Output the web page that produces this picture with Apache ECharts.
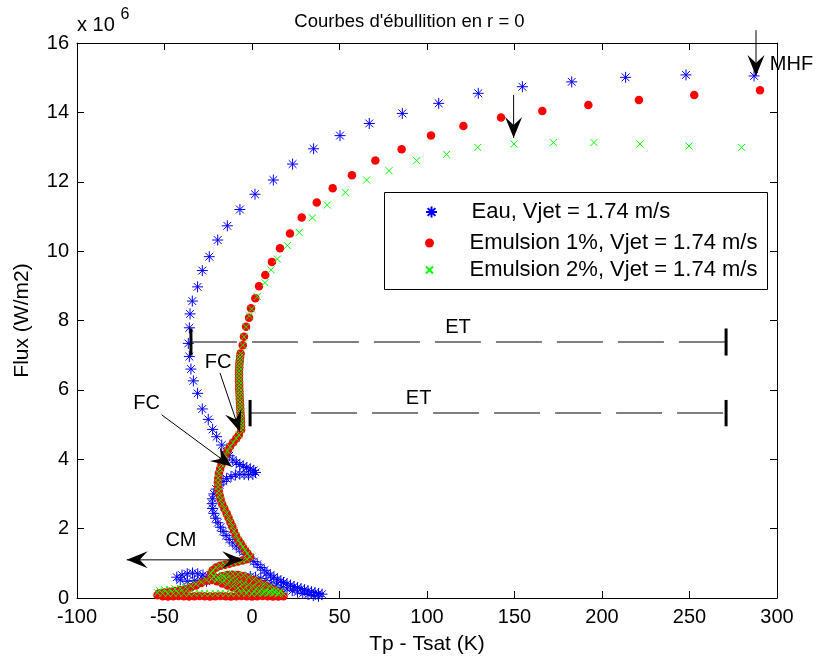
<!DOCTYPE html>
<html><head><meta charset="utf-8">
<script src="https://cdn.jsdelivr.net/npm/echarts@6/dist/echarts.min.js"></script>
<style>html,body{margin:0;padding:0;background:#fff}#chart{width:819px;height:663px}</style>
</head><body><div id="chart"></div>
<script>
const FONT = "'Liberation Sans', Arial, Helvetica, sans-serif";

// ---- axes ----
const xTickValues = [-100, -50, 0, 50, 100, 150, 200, 250, 300];
const yTickValues = [0, 2, 4, 6, 8, 10, 12, 14, 16];   // ×10^6 W/m2

// ---- series names ----
const seriesNames = ['Eau, Vjet = 1.74 m/s', 'Emulsion 1%, Vjet = 1.74 m/s', 'Emulsion 2%, Vjet = 1.74 m/s'];

// ---- data: [Tp - Tsat (K), Flux (×10^6 W/m2)] ----
const eauCurve = [
[286.9,15.05],[248.0,15.08],[213.5,15.01],[182.7,14.88],[154.5,14.74],[129.3,14.55],[106.7,14.26],[85.9,13.97],[67.0,13.68],[50.3,13.33],[35.2,12.95],[23.2,12.51],[12.2,12.05],[1.7,11.64],[-6.9,11.20],[-14.1,10.73],[-19.6,10.32],[-24.4,9.84],[-28.4,9.44],[-31.1,8.97],[-34.1,8.56],[-35.4,8.19],[-35.8,7.79],[-36.4,7.34],[-35.8,6.96],[-34.9,6.60],[-33.5,6.26],[-31.1,5.90],[-28.4,5.45],[-25.0,5.15],[-22.5,4.86],[-20.2,4.65],[-17.3,4.41],[-14.5,4.22],
[-13.0,4.10],[-11.0,3.98],[-9.0,3.90],[-7.0,3.85],[-5.0,3.80],[-3.0,3.76],[-1.0,3.72],[1.0,3.68],[2.0,3.62],[0.5,3.56],[-2.0,3.55],[-4.5,3.56],[-7.0,3.57],[-9.5,3.55],[-12.0,3.50],[-14.5,3.44],[-16.5,3.36],[-18.5,3.26],[-20.5,3.14],[-21.8,3.00],[-22.6,2.86],[-22.8,2.72],[-22.5,2.58],[-21.8,2.44],[-20.8,2.30],[-19.5,2.17],[-18.0,2.04],[-16.5,1.92],[-14.8,1.80],[-13.0,1.69],[-11.0,1.59],[-9.0,1.50],[-7.0,1.41],[-5.0,1.33],[-3.0,1.25],[-1.0,1.15],[1.0,1.05],[3.0,0.97],[5.0,0.88],[7.0,0.80],[8.5,0.72],[10.5,0.66],[12.5,0.60],[14.5,0.54],[16.5,0.49],[18.0,0.45],[20.0,0.41],[22.0,0.37],[24.0,0.33],[26.0,0.30],[28.0,0.27],[30.0,0.24],[32.0,0.21],[34.0,0.18],[36.0,0.16],[38.0,0.13],[40.0,0.11],
[38.0,0.05],[35.0,0.07],[32.0,0.10],[29.0,0.13],[26.0,0.17],[23.0,0.21],[20.0,0.26],[17.0,0.31],[14.0,0.37],[11.0,0.43],[8.0,0.50],[5.0,0.56],[2.0,0.60],[-1.0,0.62],[-4.0,0.60],[-7.0,0.55],[-10.0,0.50],[-13.0,0.48],[-16.0,0.50],[-19.0,0.55],[-22.0,0.58],[-25.0,0.62],[-28.0,0.66],[-31.0,0.70],[-34.0,0.72],[-37.0,0.70],[-40.0,0.66],[-43.0,0.60],[-41.0,0.52],[-37.0,0.48],[-33.0,0.50],[-29.0,0.52],[-26.0,0.48]
];

const emulsion1Curve = [
[290.3,14.64],[252.7,14.50],[221.1,14.36],[192.2,14.21],[165.9,14.04],[142.3,13.85],[120.8,13.61],[102.3,13.33],[85.5,12.94],[70.5,12.61],[57.1,12.19],[46.1,11.81],[37.0,11.40],[28.4,10.97],[21.7,10.51],[16.0,10.08],[11.4,9.69],[7.6,9.31],[4.0,8.99],[1.9,8.64],[-0.6,8.35],[-1.7,8.08],[-3.4,7.82],[-4.6,7.53],[-5.3,7.29],[-6.5,7.05],
[-6.8,6.95],[-7.0,6.85],[-7.2,6.75],[-7.3,6.65],[-7.4,6.55],[-7.4,6.45],[-7.4,6.35],[-7.4,6.25],[-7.3,6.15],[-7.3,6.05],[-7.2,5.95],[-7.1,5.85],[-7.0,5.75],[-6.9,5.65],[-6.8,5.55],[-6.7,5.45],[-6.6,5.35],[-6.5,5.25],[-6.4,5.15],[-6.3,5.05],[-6.2,4.95],[-6.2,4.85],
[-7.5,4.70],[-9.0,4.60],[-10.8,4.48],[-12.6,4.36],[-14.0,4.24],[-15.3,4.11],[-16.4,3.98],[-17.4,3.85],[-18.2,3.72],[-18.9,3.59],[-19.3,3.46],[-19.5,3.33],[-19.4,3.21],[-19.0,3.08],[-18.5,2.96],[-17.9,2.83],[-17.0,2.70],[-15.8,2.57],[-14.5,2.44],[-13.4,2.31],[-12.3,2.18],[-11.3,2.06],[-10.3,1.93],[-9.2,1.80],[-7.8,1.67],[-6.5,1.57],[-5.2,1.47],[-4.0,1.38],[-2.6,1.28],[-1.1,1.19],[-3.0,1.12],[-5.5,1.08],[-8.0,1.05],[-10.5,1.02],[-13.0,0.99],[-15.5,0.96],[-18.0,0.93],[-20.5,0.88],[-22.5,0.80],[-23.5,0.70],
[-22.0,0.60],[-19.5,0.57],[-17.0,0.55],[-14.5,0.55],[-12.0,0.52],[-9.5,0.48],[-7.0,0.44],[-4.5,0.40],[-2.0,0.36],[0.5,0.32],[3.0,0.28],[5.5,0.24],[8.0,0.20],[10.5,0.16],[13.0,0.12],[15.5,0.08],[18.0,0.05],[15.0,0.04],[12.0,0.04],[9.0,0.05],[6.0,0.06],[3.0,0.05],[0.0,0.04],[-3.0,0.05],[-6.0,0.06],[-9.0,0.05],[-12.0,0.04],[-15.0,0.05],[-18.0,0.06],[-21.0,0.05],[-24.0,0.04],[-27.0,0.05],[-30.0,0.06],[-33.0,0.05],[-36.0,0.04],[-39.0,0.05],[-42.0,0.06],[-45.0,0.05],[-48.0,0.04],[-51.0,0.05],[-54.0,0.08],[-53.0,0.14],[-50.0,0.16],[-47.0,0.18],[-44.0,0.20],[-41.0,0.22],[-38.0,0.25],[-35.0,0.30],[-32.0,0.36],[-29.0,0.43],[-26.0,0.50],[-23.0,0.52],[-20.0,0.48],[-17.0,0.42],[-14.0,0.36],[-11.0,0.30],[-8.0,0.25],[-5.0,0.20],[-2.0,0.16],[1.0,0.13],[4.0,0.11],[7.0,0.10],[10.0,0.10],[13.0,0.12],[16.0,0.15],[13.0,0.22],[10.0,0.30],[7.0,0.38],[4.0,0.45],[1.0,0.52],[-2.0,0.58],[-5.0,0.63],[-8.0,0.66],[-11.0,0.67],[-14.0,0.66],[-17.0,0.63]
];

const emulsion2Curve = [
[279.8,12.99],[249.7,13.03],[221.7,13.09],[195.4,13.13],[172.2,13.13],[149.7,13.09],[129.0,12.99],[111.2,12.79],[94.1,12.61],[78.3,12.32],[65.5,12.05],[53.3,11.69],[43.0,11.33],[34.5,10.96],[27.0,10.54],[20.2,10.16],[14.5,9.77],[10.9,9.46],[7.4,9.09],[3.0,8.69],[-0.2,8.33],[-1.5,8.13],[-3.4,7.82],[-4.6,7.53],[-5.3,7.29],[-6.5,7.05],
[-6.8,6.95],[-7.0,6.85],[-7.2,6.75],[-7.3,6.65],[-7.4,6.55],[-7.4,6.45],[-7.4,6.35],[-7.4,6.25],[-7.3,6.15],[-7.3,6.05],[-7.2,5.95],[-7.1,5.85],[-7.0,5.75],[-6.9,5.65],[-6.8,5.55],[-6.7,5.45],[-6.6,5.35],[-6.5,5.25],[-6.4,5.15],[-6.3,5.05],[-6.2,4.95],[-6.2,4.85],
[-7.5,4.70],[-9.0,4.60],[-10.8,4.48],[-12.6,4.36],[-14.0,4.24],[-15.3,4.11],[-16.4,3.98],[-17.4,3.85],[-18.2,3.72],[-18.9,3.59],[-19.3,3.46],[-19.5,3.33],[-19.4,3.21],[-19.0,3.08],[-18.5,2.96],[-17.9,2.83],[-17.0,2.70],[-15.8,2.57],[-14.5,2.44],[-13.4,2.31],[-12.3,2.18],[-11.3,2.06],[-10.3,1.93],[-9.2,1.80],[-7.8,1.67],[-6.5,1.57],[-5.2,1.47],[-4.0,1.38],[-2.6,1.28],[-1.1,1.19],[-3.0,1.12],[-5.5,1.08],[-8.0,1.05],[-10.5,1.02],[-13.0,0.99],[-15.5,0.96],[-18.0,0.93],[-20.5,0.88],[-22.5,0.80],[-23.5,0.72],
[-22.0,0.62],[-19.5,0.60],[-17.0,0.58],[-14.5,0.56],[-12.0,0.53],[-9.5,0.50],[-7.0,0.46],[-4.5,0.42],[-2.0,0.38],[0.5,0.34],[3.0,0.30],[5.5,0.26],[8.0,0.22],[10.5,0.19],[13.0,0.16],[15.5,0.14],[18.0,0.13],[15.0,0.12],[12.0,0.13],[9.0,0.14],[6.0,0.14],[3.0,0.13],[0.0,0.12],[-3.0,0.13],[-6.0,0.14],[-9.0,0.13],[-12.0,0.12],[-15.0,0.13],[-18.0,0.14],[-21.0,0.13],[-24.0,0.12],[-27.0,0.13],[-30.0,0.14],[-33.0,0.13],[-36.0,0.12],[-39.0,0.13],[-42.0,0.14],[-45.0,0.13],[-48.0,0.12],[-51.0,0.13],[-54.0,0.15],[-53.0,0.22],[-50.0,0.24],[-47.0,0.24],[-44.0,0.26],[-41.0,0.28],[-38.0,0.31],[-35.0,0.35],[-32.0,0.40],[-29.0,0.46],[-26.0,0.52],[-23.0,0.55],[-20.0,0.52],[-17.0,0.46],[-14.0,0.40],[-11.0,0.34],[-8.0,0.29],[-5.0,0.25],[-2.0,0.22],[1.0,0.19],[4.0,0.17],[7.0,0.16],[10.0,0.16],[13.0,0.18],[16.0,0.20],[13.0,0.27],[10.0,0.34],[7.0,0.41],[4.0,0.48],[1.0,0.54],[-2.0,0.60],[-5.0,0.65],[-8.0,0.68],[-11.0,0.70],[-14.0,0.69],[-17.0,0.66]
];

// ---- annotations (data coordinates) ----
// arrows: [x1, y1, x2(tip), y2(tip), heads]
const arrowSegments = [
  [288.0, 16.37, 288.0, 15.05, 1],
  [149.5, 14.50, 149.5, 13.26, 1],
  [-18.3, 6.49, -6.9, 4.79, 1],
  [-51.6, 5.28, -11.6, 3.79, 1],
  [-71.6, 1.10, -5.0, 1.10, 2]
];
// ET spans: [xStart, xEnd, y, capHalfHeight]
const etSegments = [
  [-34.9, 270.9, 7.38, 0.39],
  [-1.1, 270.9, 5.33, 0.38]
];
const annotationTexts = ['MHF', 'ET', 'ET', 'FC', 'FC', 'CM'];
const annotationPositions = [[308.3, 15.37], [117.7, 7.81], [95.2, 5.74], [-19.4, 6.80], [-60.2, 5.62], [-40.6, 1.67]];

const STAR = 'path://M0,-6L0,6M-6,0L6,0M-4.24,-4.24L4.24,4.24M-4.24,4.24L4.24,-4.24';
const CROSS = 'path://M-1,-1L1,1M-1,1L1,-1';

function arrowHead(tip, from) {
  const dx = tip[0] - from[0], dy = tip[1] - from[1];
  const len = Math.hypot(dx, dy) || 1;
  const ux = dx / len, uy = dy / len, nx = -uy, ny = ux;
  const L = 21, H = 8.5, N = 13;
  return {
    type: 'polygon',
    shape: { points: [
      [tip[0], tip[1]],
      [tip[0] - L * ux + H * nx, tip[1] - L * uy + H * ny],
      [tip[0] - N * ux, tip[1] - N * uy],
      [tip[0] - L * ux - H * nx, tip[1] - L * uy - H * ny]
    ] },
    style: { fill: '#000' }
  };
}
function renderArrow(params, api) {
  const a = api.coord([api.value(0), api.value(1)]);
  const b = api.coord([api.value(2), api.value(3)]);
  const children = [{ type: 'line', shape: { x1: a[0], y1: a[1], x2: b[0], y2: b[1] }, style: { stroke: '#000', lineWidth: 1 } }];
  children.push(arrowHead(b, a));
  if (api.value(4) === 2) children.push(arrowHead(a, b));
  return { type: 'group', children };
}
function renderEt(params, api) {
  const y = api.value(2), h = api.value(3);
  const a = api.coord([api.value(0), y]);
  const b = api.coord([api.value(1), y]);
  const top = api.coord([api.value(0), y + h])[1];
  const bot = api.coord([api.value(0), y - h])[1];
  return { type: 'group', children: [
    { type: 'line', shape: { x1: a[0], y1: a[1], x2: b[0], y2: b[1] }, style: { stroke: '#555', lineWidth: 1.5, lineDash: [46, 15] } },
    { type: 'line', shape: { x1: a[0], y1: top, x2: a[0], y2: bot }, style: { stroke: '#000', lineWidth: 3 } },
    { type: 'line', shape: { x1: b[0], y1: top, x2: b[0], y2: bot }, style: { stroke: '#000', lineWidth: 3 } }
  ] };
}

const axisCommon = {
  axisLine: { onZero: false, lineStyle: { color: '#000', width: 1 } },
  axisTick: { inside: true, length: 7, lineStyle: { color: '#000' } },
  splitLine: { show: false }
};
const labelStyle = { color: '#000', fontSize: 20, fontFamily: FONT };

const legendTops = [201, 232, 259];
const legendIconSizes = [11, 9, 7];

const chart = echarts.init(document.getElementById('chart'));
chart.setOption({
  animation: false,
  backgroundColor: '#fff',
  title: {
    text: "Courbes d'ébullition en r = 0",
    left: 'center', top: 7,
    textStyle: { fontSize: 18.5, fontWeight: 'normal', color: '#000', fontFamily: FONT }
  },
  grid: { left: 77, right: 42, top: 43, bottom: 65, containLabel: false },
  xAxis: [
    Object.assign({}, axisCommon, {
      type: 'value', position: 'bottom',
      min: xTickValues[0], max: xTickValues[xTickValues.length - 1], interval: xTickValues[1] - xTickValues[0],
      axisLabel: Object.assign({ margin: 9 }, labelStyle),
      name: 'Tp - Tsat (K)', nameLocation: 'middle', nameGap: 36,
      nameTextStyle: { color: '#000', fontSize: 21, fontFamily: FONT }
    }),
    Object.assign({}, axisCommon, {
      type: 'value', position: 'top',
      min: xTickValues[0], max: xTickValues[xTickValues.length - 1], interval: xTickValues[1] - xTickValues[0],
      axisLabel: { show: false }
    })
  ],
  yAxis: [
    Object.assign({}, axisCommon, {
      type: 'value', position: 'left',
      min: yTickValues[0], max: yTickValues[yTickValues.length - 1], interval: yTickValues[1] - yTickValues[0],
      axisLabel: Object.assign({ margin: 8 }, labelStyle),
      name: 'Flux (W/m2)', nameLocation: 'middle', nameGap: 44,
      nameTextStyle: { color: '#000', fontSize: 21, fontFamily: FONT }
    }),
    Object.assign({}, axisCommon, {
      type: 'value', position: 'right',
      min: yTickValues[0], max: yTickValues[yTickValues.length - 1], interval: yTickValues[1] - yTickValues[0],
      axisLabel: { show: false }
    })
  ],
  legend: seriesNames.map((name, i) => ({
    data: [name], orient: 'vertical', left: 425, top: legendTops[i],
    itemWidth: 70, itemHeight: legendIconSizes[i], itemGap: 0, padding: 0,
    selectedMode: false, z: 5,
    textStyle: { color: '#000', fontSize: 22, fontFamily: FONT }
  })),
  graphic: [
    { type: 'rect', z: 3, shape: { x: 384.5, y: 192.5, width: 383, height: 97 }, style: { fill: '#fff', stroke: '#000', lineWidth: 1 } },
    { type: 'text', x: 77, y: 25.5, style: { text: 'x 10', fontSize: 20, fontFamily: FONT, fill: '#000', verticalAlign: 'middle' } },
    { type: 'text', x: 120.5, y: 14.5, style: { text: '6', fontSize: 16, fontFamily: FONT, fill: '#000', verticalAlign: 'middle' } }
  ],
  series: [
    { name: seriesNames[0], type: 'scatter', data: eauCurve, symbol: STAR, symbolSize: 11, clip: false, silent: true,
      itemStyle: { color: 'rgba(0,0,0,0)', borderColor: '#0000ff', borderWidth: 1, opacity: 1 } },
    { name: seriesNames[1], type: 'scatter', data: emulsion1Curve, symbol: 'circle', symbolSize: 8.5, clip: false, silent: true,
      itemStyle: { color: '#ff0000', opacity: 1 } },
    { name: seriesNames[2], type: 'scatter', data: emulsion2Curve, symbol: CROSS, symbolSize: 7, clip: false, silent: true,
      itemStyle: { color: 'rgba(0,0,0,0)', borderColor: '#00ff00', borderWidth: 1, opacity: 1 } },
    { type: 'custom', name: 'ET', data: etSegments, renderItem: renderEt, clip: false, silent: true, z: 6 },
    { type: 'custom', name: 'arrows', data: arrowSegments, renderItem: renderArrow, clip: false, silent: true, z: 6 },
    { type: 'scatter', name: 'labels', clip: false, silent: true, z: 6, symbol: 'circle', symbolSize: 1,
      itemStyle: { color: 'rgba(0,0,0,0)', opacity: 1 },
      data: annotationTexts.map((t, i) => ({ name: t, value: annotationPositions[i] })),
      label: { show: true, position: 'inside', formatter: '{b}', color: '#000', opacity: 1, fontSize: 20, fontFamily: FONT } }
  ]
});
</script>
</body></html>
